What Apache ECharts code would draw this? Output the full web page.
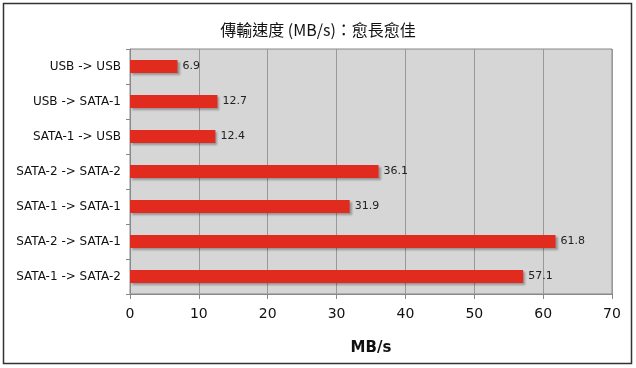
<!DOCTYPE html>
<html><head><meta charset="utf-8">
<script src="https://cdn.jsdelivr.net/npm/echarts@6/dist/echarts.min.js"></script>
<style>html,body{margin:0;padding:0;background:#fff}#c{width:636px;height:368px}</style>
</head><body><div id="c"></div>
<script>
const categories = ["USB -> USB","USB -> SATA-1","SATA-1 -> USB","SATA-2 -> SATA-2","SATA-1 -> SATA-1","SATA-2 -> SATA-1","SATA-1 -> SATA-2"];
const speeds = [6.9, 12.7, 12.4, 36.1, 31.9, 61.8, 57.1];
const xTicks = [0, 10, 20, 30, 40, 50, 60, 70];
const titleText = "傳輸速度 (MB/s)：愈長愈佳";
const xName = "MB/s";

const chart = echarts.init(document.getElementById('c'), null, {renderer:'canvas'});
const font = "'DejaVu Sans', Verdana, sans-serif";
chart.setOption({
  animation:false,
  backgroundColor:'#fff',
  title:{text:titleText,left:'center',top:17,textStyle:{fontSize:16,fontWeight:'normal',color:'#111',fontFamily:"'Noto Sans CJK TC', 'DejaVu Sans', sans-serif"}},
  graphic:[{type:'rect',shape:{x:3.5,y:3.5,width:628,height:360},style:{fill:null,stroke:'#333',lineWidth:1.5},silent:true}],
  grid:{left:130,right:24,top:49,bottom:74,show:true,backgroundColor:'#d6d6d6',borderColor:'#888',borderWidth:1},
  xAxis:{type:'value',min:xTicks[0],max:xTicks[xTicks.length-1],interval:10,
    name:xName,nameLocation:'middle',nameGap:47,
    nameTextStyle:{fontSize:15,fontWeight:'bold',color:'#111',fontFamily:font},
    axisLine:{show:true,lineStyle:{color:'#888'}},
    axisTick:{show:true,length:5,lineStyle:{color:'#888'}},
    axisLabel:{fontSize:14,color:'#111',margin:13,fontFamily:font},
    splitLine:{show:true,lineStyle:{color:'#999',width:1}}},
  yAxis:{type:'category',data:categories,inverse:true,
    axisLine:{show:true,lineStyle:{color:'#888'}},
    axisTick:{show:true,length:4,lineStyle:{color:'#888'}},
    axisLabel:{fontSize:12,color:'#111',margin:9,fontFamily:font}},
  series:[{type:'bar',data:speeds,barWidth:13,
    itemStyle:{color:'#e12b1e',shadowColor:'rgba(0,0,0,0.3)',shadowOffsetX:2,shadowOffsetY:2,shadowBlur:2},
    label:{show:true,position:'right',distance:5,fontSize:11,color:'#222',fontFamily:font}}]
});
</script></body></html>
